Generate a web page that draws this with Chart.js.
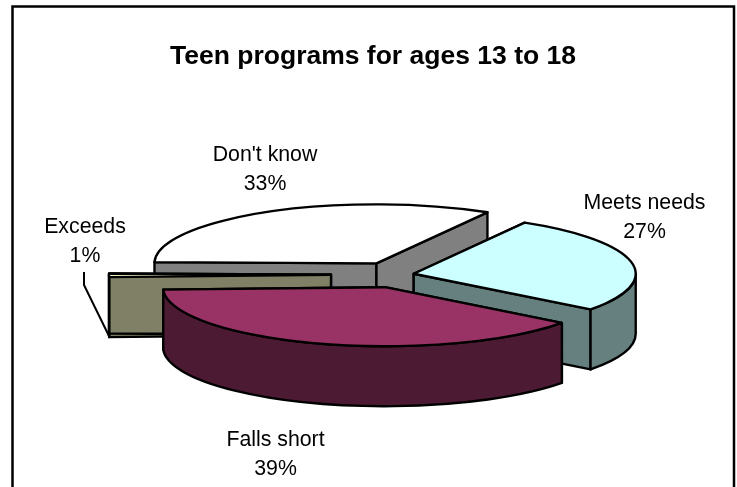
<!DOCTYPE html>
<html>
<head>
<meta charset="utf-8">
<title>Teen programs for ages 13 to 18</title>
<script src="https://cdn.jsdelivr.net/npm/chart.js@4"></script>
<style>
  html, body { margin: 0; padding: 0; background: #fff; }
  #wrap { position: relative; width: 737px; height: 487px; overflow: hidden; }
</style>
</head>
<body>
<div id="wrap"><canvas id="chart" width="737" height="487"></canvas></div>
<script>
const categories = ['Meets needs', 'Falls short', 'Exceeds', "Don't know"];
const percents = [27, 39, 1, 33];
const topColors = ['#CCFFFF', '#993366', '#FFFFCC', '#FFFFFF'];
const wallColors = ['#668080', '#4D1A33', '#808066', '#808080'];

// how far each slice is pulled out of the pie, px
const explode = [14, 50, 69, 48];
// painter's order, back slices first
const drawOrder = [3, 2, 0, 1];
// label centre x and first baseline, px
const labelPos = [[644.5, 209], [275.5, 446], [85, 233], [265, 161]];

const RX = 222;
const RY = 59;
const DEPTH = 60;
const CX = 400;
const CY = 274.5;

// the pie is drawn flat by the library, then squashed with this plugin
const pie3d = {
    id: 'pie3d',
    beforeDatasetDraw(chart) {
        const ctx = chart.ctx;
        const arcs = chart.getDatasetMeta(0).data;

        // frame
        ctx.save();
        ctx.strokeStyle = '#000';
        ctx.lineWidth = 2.5;
        ctx.strokeRect(12.5, 6.5, 721.5, 490);
        ctx.restore();

        drawOrder.forEach(i => {
            const arc = arcs[i];
            const mid = (arc.startAngle + arc.endAngle) / 2;
            const ax = CX + Math.cos(mid) * explode[i];
            const ay = CY + Math.sin(mid) * explode[i] * RY / RX;
            const a0 = arc.startAngle;
            const a1 = arc.endAngle;

            ctx.save();
            ctx.lineWidth = 2.4;
            ctx.lineJoin = 'round';
            ctx.strokeStyle = '#000';
            ctx.fillStyle = wallColors[i];

            // cut faces
            [a0, a1].forEach(a => {
                const px = ax + Math.cos(a) * RX;
                const py = ay + Math.sin(a) * RY;
                ctx.beginPath();
                ctx.moveTo(ax, ay);
                ctx.lineTo(px, py);
                ctx.lineTo(px, py + DEPTH);
                ctx.lineTo(ax, ay + DEPTH);
                ctx.closePath();
                ctx.fill();
                ctx.stroke();
            });

            // rim, only the part facing the viewer
            const s = Math.max(a0, 0);
            const e = Math.min(a1, Math.PI);
            if (e > s) {
                ctx.beginPath();
                ctx.ellipse(ax, ay, RX, RY, 0, s, e);
                ctx.ellipse(ax, ay + DEPTH, RX, RY, 0, e, s, true);
                ctx.closePath();
                ctx.fill();
                ctx.stroke();
            }

            // top face comes from the library's arc
            ctx.save();
            ctx.translate(ax, ay);
            ctx.scale(1, RY / RX);
            ctx.translate(-arc.x, -arc.y);
            arc.draw(ctx);
            ctx.restore();

            ctx.beginPath();
            ctx.moveTo(ax, ay);
            ctx.ellipse(ax, ay, RX, RY, 0, a0, a1);
            ctx.closePath();
            ctx.stroke();
            ctx.restore();
        });

        // leader line for the small slice
        ctx.save();
        ctx.strokeStyle = '#000';
        ctx.lineWidth = 2;
        ctx.beginPath();
        ctx.moveTo(84, 272);
        ctx.lineTo(84, 285);
        ctx.lineTo(109, 336);
        ctx.stroke();
        ctx.restore();

        // labels
        ctx.save();
        ctx.fillStyle = '#000';
        ctx.font = '21.3px "Liberation Sans", Arial, sans-serif';
        ctx.textAlign = 'center';
        ctx.textBaseline = 'alphabetic';
        categories.forEach((name, i) => {
            ctx.fillText(name, labelPos[i][0], labelPos[i][1]);
            ctx.fillText(percents[i] + '%', labelPos[i][0], labelPos[i][1] + 28.5);
        });
        ctx.restore();
        return false;
    }
};

document.addEventListener('DOMContentLoaded', () => {
    new Chart(document.getElementById('chart'), {
        type: 'pie',
        data: {
            labels: categories,
            datasets: [{
                data: percents,
                backgroundColor: topColors,
                borderWidth: 0
            }]
        },
        options: {
            responsive: false,
            animation: false,
            rotation: 30,
            radius: RX,
            events: [],
            layout: { padding: { left: 9 } },
            plugins: {
                legend: { display: false },
                tooltip: { enabled: false },
                title: {
                    display: true,
                    text: 'Teen programs for ages 13 to 18',
                    color: '#000',
                    font: { family: '"Liberation Sans", Arial, sans-serif', size: 26.5, weight: 'bold' },
                    padding: { top: 41, bottom: 0 }
                }
            }
        },
        plugins: [pie3d]
    });
});
</script>
</body>
</html>
